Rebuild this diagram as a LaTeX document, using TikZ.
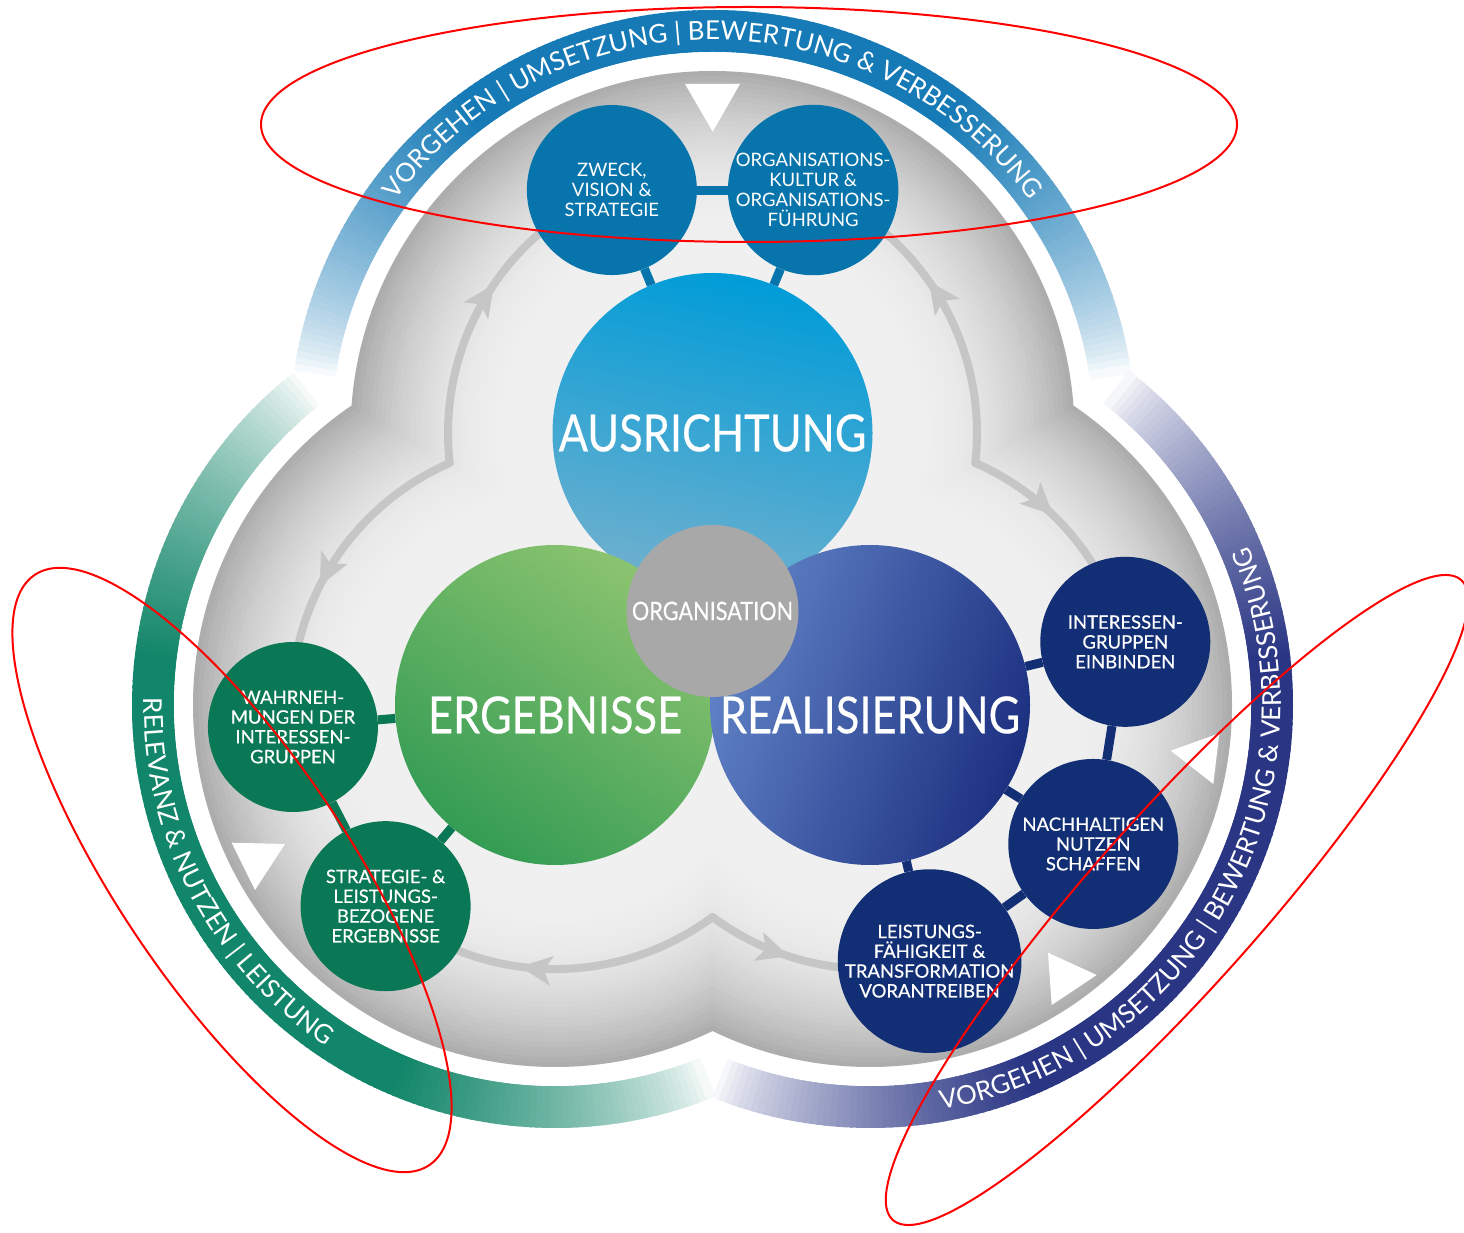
\documentclass[tikz,border=0pt]{standalone}
\usepackage{fontspec}
\setmainfont{Lato}
\newfontfamily\mediumlato[FakeBold=0.4]{Lato}
\newfontfamily\boldlato[FakeBold=0.5]{Lato}
\usetikzlibrary{arrows.meta,decorations.markings,decorations.text}

\definecolor{topring}{RGB}{22,122,182}
\definecolor{leftring}{RGB}{18,134,106}
\definecolor{rightring}{RGB}{42,54,132}
\definecolor{topdot}{RGB}{8,116,172}
\definecolor{leftdot}{RGB}{10,120,84}
\definecolor{rightdot}{RGB}{18,46,116}
\definecolor{ausrtop}{RGB}{0,156,216}
\definecolor{ausrmid}{RGB}{88,178,224}
\definecolor{ausrbot}{RGB}{112,176,206}
\definecolor{ergdark}{RGB}{52,156,84}
\definecolor{erglight}{RGB}{140,196,112}
\definecolor{realdark}{RGB}{28,48,128}
\definecolor{reallight}{RGB}{96,130,198}
\definecolor{orggray}{RGB}{168,168,168}
\definecolor{flowgray}{RGB}{198,198,198}

\newcommand{\ringfont}{\fontsize{26}{26}\selectfont}
\newcommand{\narrowtext}[1]{\scalebox{0.85}[1]{#1}}

\tikzset{
	ringseg/.style={line width=42pt},
	bigcircle/.style={circle, minimum size=320pt, inner sep=0pt},
	bigtext/.style={text=white, inner sep=0pt, font=\mediumlato\fontsize{51}{51}\selectfont},
	smallcircle/.style={circle, minimum size=170pt, inner sep=0pt, text=white, align=center, font=\fontsize{18.5}{19.8}\selectfont},
	topcircle/.style={smallcircle, fill=topdot},
	leftcircle/.style={smallcircle, fill=leftdot, font=\boldlato\fontsize{18.5}{19.8}\selectfont},
	rightcircle/.style={smallcircle, fill=rightdot, font=\boldlato\fontsize{18.5}{19.8}\selectfont},
	toplink/.style={draw=topdot, line width=9pt},
	leftlink/.style={draw=leftdot, line width=9pt},
	rightlink/.style={draw=rightdot, line width=9pt},
	flow/.style={draw=flowgray, line width=8pt, line cap=round, postaction={decorate},
		decoration={markings, mark=at position #1 with {\arrow[flowgray]{Stealth[length=32pt, width=30pt, inset=8pt, line width=1pt]}}}},
	ringtext/.style={decorate, decoration={text along path, text color=white, text={#1}}},
	markup/.style={draw=red, line width=2pt}
}

\begin{document}
\begin{tikzpicture}[x=1pt, y=1pt]
	\useasboundingbox (0,0) rectangle (1464,1232);
	\fill[white] (0,0) rectangle (1464,1232);

	\coordinate (c1) at (712.5,799);
	\coordinate (c2) at (555,527);
	\coordinate (c3) at (870,527);
	\coordinate (kl) at (449.7,769);
	\coordinate (kr) at (975.3,769);
	\coordinate (kb) at (712.5,315);

	\foreach \lc/\sa/\ea/\col in {c1/171.5/8.5/topring, c2/128.2/291.9/leftring, c3/248.1/411.8/rightring}
		\foreach \k in {0,...,179}{
			\pgfmathsetmacro\angA{\sa+(\ea-\sa)*(\k/180)}
			\pgfmathsetmacro\angB{\sa+(\ea-\sa)*((\k+1.5)/180)}
			\pgfmathsetmacro\dd{abs(\ea-\sa)*(min(\k+0.5,179.5-\k)/180)}
			\pgfmathsetmacro\pp{100*min(1,(\dd/45)^0.7)}
			\draw[ringseg, draw=\col!\pp!white] ([shift={(\angA:402)}]\lc) arc[start angle=\angA, end angle=\angB, radius=402];
		}

	\fill[white] (c1) circle[radius=381] (c2) circle[radius=381] (c3) circle[radius=381];
	\foreach \rad in {362,357,...,197}{
		\pgfmathsetmacro\gv{6+26*((\rad-190)/172)^2.2}
		\fill[black!\gv] (c1) circle[radius=\rad] (c2) circle[radius=\rad] (c3) circle[radius=\rad];
	}

	\draw[flow=0.735] (kl) arc[start angle=186.5, end angle=131, radius=264];
	\draw[flow=0.75] (kr) arc[start angle=-6.5, end angle=49, radius=264];
	\draw[flow=0.75] (kl) arc[start angle=113.6, end angle=166.3, radius=264];
	\draw[flow=0.76] (kb) arc[start angle=-53.4, end angle=-111.6, radius=264];
	\draw[flow=0.6] (kr) arc[start angle=66.4, end angle=32.4, radius=264];
	\draw[flow=0.6] (kb) arc[start angle=-126.6, end angle=-95.4, radius=264];

	\fill[white] (685,1148) -- (740,1148) -- (712.7,1100.3) -- cycle;
	\fill[white] (231.7,389.3) -- (285,388) -- (255,342) -- cycle;
	\fill[white] (1170.7,481.3) -- (1219.3,498.7) -- (1213.3,448) -- cycle;
	\fill[white] (1048,279.3) -- (1096.7,257) -- (1051.7,227) -- cycle;

	\node[bigcircle, top color=ausrtop, middle color=ausrmid, bottom color=ausrbot, shading angle=-12] (ausr) at (c1) {};
	\node[bigcircle, bottom color=ergdark, top color=erglight, shading angle=-35] (erg) at (c2) {};
	\node[bigcircle, left color=reallight, right color=realdark, shading angle=70] (real) at (c3) {};
	\node[circle, minimum size=172pt, inner sep=0pt, fill=orggray, text=white, font=\mediumlato\fontsize{25.5}{25.5}\selectfont] (organisation) at (712.5,621) {\narrowtext{ORGANISATION}};
	\node[bigtext] (ausrtxt) at (ausr.center) {\narrowtext{AUSRICHTUNG}};
	\node[bigtext] (ergtxt) at ([yshift=-10pt]erg.center) {\narrowtext{ERGEBNISSE}};
	\node[bigtext] (realtxt) at ([yshift=-10pt]real.center) {\narrowtext{REALISIERUNG}};

	\node[topcircle] (zweck) at ([shift={(112.5:263)}]c1) {ZWECK,\\VISION \&\\STRATEGIE};
	\node[topcircle] (kultur) at ([shift={(67.5:263)}]c1) {ORGANISATIONS-\\KULTUR \&\\ORGANISATIONS-\\FÜHRUNG};
	\node[leftcircle] (wahrnehmung) at ([shift={(184.8:263)}]c2) {WAHRNEH-\\MUNGEN DER\\INTERESSEN-\\GRUPPEN};
	\node[leftcircle] (strategie) at ([shift={(229.9:263)}]c2) {STRATEGIE- \&\\LEISTUNGS-\\BEZOGENE\\ERGEBNISSE};
	\node[rightcircle] (einbinden) at ([shift={(13.9:263)}]c3) {INTERESSEN-\\GRUPPEN\\EINBINDEN};
	\node[rightcircle] (nutzen) at ([shift={(-31.9:263)}]c3) {NACHHALTIGEN\\NUTZEN\\SCHAFFEN};
	\node[rightcircle] (leistung) at ([shift={(-76.9:263)}]c3) {LEISTUNGS-\\FÄHIGKEIT \&\\TRANSFORMATION\\VORANTREIBEN};

	\draw[toplink] (zweck) -- (ausr);
	\draw[toplink] (kultur) -- (ausr);
	\draw[toplink] (zweck) -- (kultur);
	\draw[leftlink] (wahrnehmung) -- (erg);
	\draw[leftlink] (wahrnehmung) -- (strategie);
	\draw[leftlink] (strategie) -- (erg);
	\draw[rightlink] (einbinden) -- (real);
	\draw[rightlink] (einbinden) -- (nutzen);
	\draw[rightlink] (nutzen) -- (real);
	\draw[rightlink] (leistung) -- (real);
	\draw[rightlink] (leistung) -- (nutzen);

	\path[ringtext={|\ringfont|VORGEHEN {\textbar} UMSETZUNG {\textbar} BEWERTUNG {\&} VERBESSERUNG}, decoration={text align=center}]
		([shift={(150:393)}]c1) arc[start angle=150, end angle=30, radius=393];
	\path[ringtext={|\ringfont|RELEVANZ {\&} NUTZEN {\textbar} LEISTUNG}]
		([shift={(179:411)}]c2) arc[start angle=179, end angle=255, radius=411];
	\path[ringtext={|\ringfont|VORGEHEN {\textbar} UMSETZUNG {\textbar} BEWERTUNG {\&} VERBESSERUNG}]
		([shift={(-80:411)}]c3) arc[start angle=-80, end angle=40, radius=411];

	\draw[markup] (749,1107.5) ellipse[x radius=488, y radius=117.5];
	\draw[markup, rotate around={-56.25:(232,362)}] (232,362) ellipse[x radius=355, y radius=116];
	\draw[markup, rotate around={48.4:(1177,332)}] (1177,332) ellipse[x radius=428, y radius=85];
\end{tikzpicture}
\end{document}
